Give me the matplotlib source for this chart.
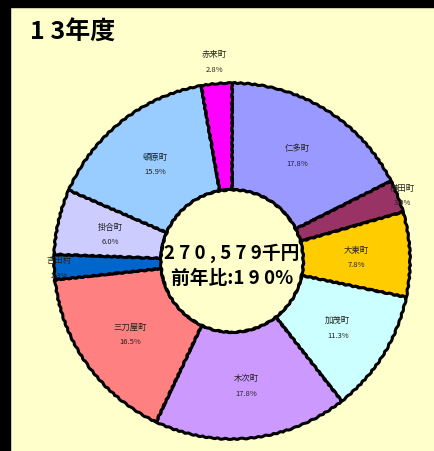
import matplotlib
matplotlib.use("Agg")
import matplotlib.pyplot as plt
from matplotlib.patches import Rectangle, Circle
import numpy as np

plt.rcParams['font.family'] = ['Noto Sans CJK JP', 'DejaVu Sans']

# data (clockwise from 12 o'clock)
towns = ['仁多町', '横田町', '大東町', '加茂町', '木次町',
         '三刀屋町', '吉田村', '掛合町', '頓原町', '赤来町']
shares = [17.8, 3.0, 7.8, 11.3, 17.8, 16.5, 2.3, 6.0, 15.9, 2.8]
colors = ['#9999FF', '#993366', '#FFCC00', '#CCFFFF', '#CC99FF',
          '#FF8080', '#0066CC', '#CCCCFF', '#99CCFF', '#FF00FF']
title = '1 3年度'
total_text = '2 7 0 , 5 7 9千円'
ratio_text = '前年比:1 9 0%'

# label distance from centre (fraction of radius)
label_r = [0.70, 1.03, 0.70, 0.70, 0.70, 0.70, 0.97, 0.70, 0.70, 1.13]

bg = '#FFFFCC'
W, H = 434, 452
fig = plt.figure(figsize=(W / 100, H / 100), dpi=100, facecolor=bg)

# black frame on top and left
fig.patches.append(Rectangle((0, 1 - 8 / H), 1, 8 / H, transform=fig.transFigure,
                             color='black', zorder=0))
fig.patches.append(Rectangle((0, 0), 10 / W, 1, transform=fig.transFigure,
                             color='black', zorder=0))

fig.text(30 / W, 1 - 40 / H, title, fontsize=18, fontweight='bold', ha='left', va='baseline')

cx, cy, size = 232, 262, 360
ax = fig.add_axes([(cx - size / 2) / W, (H - cy - size / 2) / H, size / W, size / H])
ax.patch.set_alpha(0)

wedges, _ = ax.pie(shares, colors=colors, startangle=90, counterclock=False, radius=1,
                   wedgeprops=dict(width=0.6, edgecolor='black', linewidth=2.2))
for w in wedges:
    w.set_sketch_params(scale=0.5, length=8, randomness=2)

hole = Circle((0, 0), 0.4, facecolor=bg, edgecolor='black', linewidth=2.2, zorder=3)
hole.set_sketch_params(scale=0.5, length=8, randomness=2)
ax.add_patch(hole)

lim = size / 2 / 178
ax.set_xlim(-lim, lim)
ax.set_ylim(-lim, lim)
ax.set_aspect('equal')
ax.axis('off')

for w, name, val, r in zip(wedges, towns, shares, label_r):
    ang = np.deg2rad((w.theta1 + w.theta2) / 2)
    x, y = r * np.cos(ang), r * np.sin(ang)
    ax.text(x, y + 0.04, name, fontsize=6, color='#222222', ha='center', va='center', zorder=4)
    ax.text(x, y - 0.045, f'{val:.1f}%', fontsize=5.5, color='#222222', ha='center', va='center', zorder=4)

ax.text(0, 0.05, total_text, fontsize=13.5, fontweight='bold', ha='center', va='center', zorder=5)
ax.text(0, -0.09, ratio_text, fontsize=13.5, fontweight='bold', ha='center', va='center', zorder=5)

fig.savefig('out.png', dpi=100, facecolor=bg)
